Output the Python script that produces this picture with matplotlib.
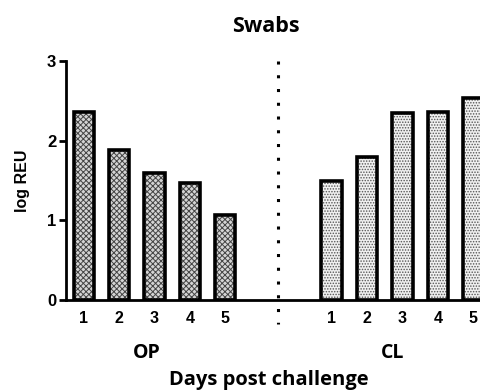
import matplotlib
matplotlib.use('Agg')
import matplotlib.pyplot as plt

# data
days = ['1', '2', '3', '4', '5']
op_values = [2.36, 1.89, 1.60, 1.47, 1.07]
cl_values = [1.49, 1.80, 2.35, 2.36, 2.54]
groups = ['OP', 'CL']

op_pos = [0, 1, 2, 3, 4]
cl_pos = [7, 8, 9, 10, 11]

plt.rcParams['hatch.linewidth'] = 0.7

fig = plt.figure(figsize=(4.81, 3.91), dpi=100)
ax = fig.add_axes([0.137, 0.2327, 0.869, 0.611])

ax.bar(op_pos, op_values, width=0.57, color='#d4d4d4', edgecolor='#444444',
       linewidth=0, hatch='xxxxxx', zorder=3)
ax.bar(cl_pos, cl_values, width=0.57, color='#f0f0f0', edgecolor='#555555',
       linewidth=0, hatch='......', zorder=3)
# thick outlines on top of the hatching
ax.bar(op_pos + cl_pos, op_values + cl_values, width=0.57, fill=False,
       edgecolor='black', linewidth=2.6, zorder=4)

ax.set_xlim(-0.5, 11.3)
ax.set_ylim(0, 3)
ax.set_yticks([0, 1, 2, 3])
ax.set_xticks(op_pos + cl_pos)
ax.set_xticklabels(days + days)

for lab in ax.get_xticklabels():
    lab.set_fontfamily('Liberation Sans')
    lab.set_fontweight('bold')
    lab.set_fontsize(11.5)
for lab in ax.get_yticklabels():
    lab.set_fontfamily('Liberation Sans')
    lab.set_fontweight('bold')
    lab.set_fontsize(12)

ax.tick_params(axis='x', length=0, pad=8)
ax.tick_params(axis='y', length=5, width=2, pad=2)

ax.spines['top'].set_visible(False)
ax.spines['right'].set_visible(False)
ax.spines['left'].set_linewidth(2)
ax.spines['bottom'].set_linewidth(2)

ax.plot([5.5, 5.5], [3.0, -0.3], linestyle=(0, (1, 3.5)), color='black',
        linewidth=2.2, clip_on=False, zorder=5)

ax.set_ylabel('log REU', fontfamily='Liberation Sans', fontweight='bold',
              fontsize=11.5, labelpad=12)

fig.text(147 / 481, 1 - 353 / 391, groups[0], ha='center', va='center',
         fontfamily='Open Sans', fontweight='bold', fontsize=14)
fig.text(393 / 481, 1 - 353 / 391, groups[1], ha='center', va='center',
         fontfamily='Open Sans', fontweight='bold', fontsize=14)
fig.text(269 / 481, 1 - 380 / 391, 'Days post challenge', ha='center', va='center',
         fontfamily='Open Sans', fontweight='bold', fontsize=14.5)
fig.text(266 / 481, 1 - 27 / 391, 'Swabs', ha='center', va='center',
         fontfamily='Open Sans', fontweight='bold', fontsize=15.5)

fig.savefig('out.png', dpi=100)
